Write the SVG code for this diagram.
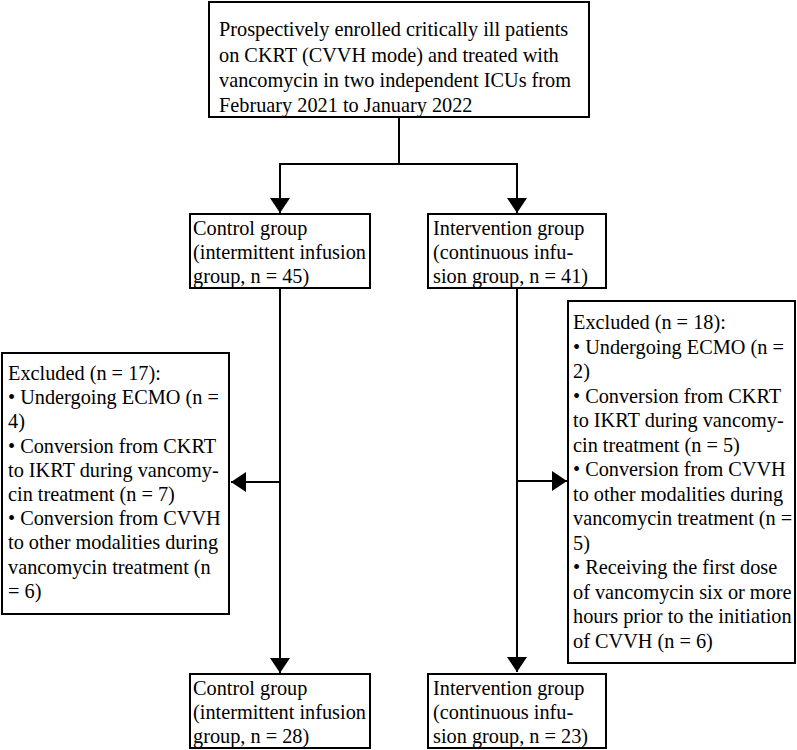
<svg xmlns="http://www.w3.org/2000/svg" width="797" height="750" viewBox="0 0 797 750">
<style>
.box{fill:#fff;stroke:#000;stroke-width:2}
.t{font-family:"Liberation Serif","Times New Roman",serif;font-size:20.3px;fill:#000}
.ln{fill:none;stroke:#000;stroke-width:2}
</style>
<defs>
<marker id="ah" markerUnits="userSpaceOnUse" markerWidth="16" markerHeight="20" refX="15" refY="10" orient="auto" viewBox="0 0 16 20">
<path d="M0,0 L15,10 L0,20 z" fill="#000"/>
</marker>
</defs>
<rect width="797" height="750" fill="#fff"/>
<g id="connectors">
<path class="ln" d="M399,117 V164"/>
<path class="ln" d="M280,164 H517"/>
<path class="ln" d="M280,163 V213" marker-end="url(#ah)"/>
<path class="ln" d="M517,163 V213" marker-end="url(#ah)"/>
<path class="ln" d="M280,288 V673" marker-end="url(#ah)"/>
<path class="ln" d="M517,288 V672" marker-end="url(#ah)"/>
<path class="ln" d="M280,482 H231" marker-end="url(#ah)"/>
<path class="ln" d="M517,481 H567" marker-end="url(#ah)"/>
</g>
<g id="enrolled">
<rect class="box" x="209" y="2" width="380" height="115"/>
<text class="t" x="219" y="36">Prospectively enrolled critically ill patients</text>
<text class="t" x="219" y="61.5">on CKRT (CVVH mode) and treated with</text>
<text class="t" x="219" y="87">vancomycin in two independent ICUs from</text>
<text class="t" x="219" y="112">February 2021 to January 2022</text>
</g>
<g id="control1">
<rect class="box" x="190" y="214" width="180" height="74"/>
<text class="t" x="193" y="235">Control group</text>
<text class="t" x="193" y="259">(intermittent infusion</text>
<text class="t" x="193" y="283">group, n = 45)</text>
</g>
<g id="intervention1">
<rect class="box" x="428" y="214" width="178" height="74"/>
<text class="t" x="433" y="235">Intervention group</text>
<text class="t" x="433" y="259">(continuous infu-</text>
<text class="t" x="433" y="283">sion group, n = 41)</text>
</g>
<g id="excluded-left">
<rect class="box" x="2" y="353" width="227" height="261"/>
<text class="t" x="8" y="380">Excluded (n = 17):</text>
<text class="t" x="8" y="404.2">• Undergoing ECMO (n =</text>
<text class="t" x="8" y="428.4">4)</text>
<text class="t" x="8" y="452.6">• Conversion from CKRT</text>
<text class="t" x="8" y="476.8">to IKRT during vancomy-</text>
<text class="t" x="8" y="501">cin treatment (n = 7)</text>
<text class="t" x="8" y="525.2">• Conversion from CVVH</text>
<text class="t" x="8" y="549.4">to other modalities during</text>
<text class="t" x="8" y="573.6">vancomycin treatment (n</text>
<text class="t" x="8" y="597.8">= 6)</text>
</g>
<g id="excluded-right">
<rect class="box" x="568" y="301" width="227" height="362"/>
<text class="t" x="573" y="329">Excluded (n = 18):</text>
<text class="t" x="573" y="353.5">• Undergoing ECMO (n =</text>
<text class="t" x="573" y="378">2)</text>
<text class="t" x="573" y="402.5">• Conversion from CKRT</text>
<text class="t" x="573" y="427">to IKRT during vancomy-</text>
<text class="t" x="573" y="451.5">cin treatment (n = 5)</text>
<text class="t" x="573" y="476">• Conversion from CVVH</text>
<text class="t" x="573" y="500.5">to other modalities during</text>
<text class="t" x="573" y="525">vancomycin treatment (n =</text>
<text class="t" x="573" y="549.5">5)</text>
<text class="t" x="573" y="574">• Receiving the first dose</text>
<text class="t" x="573" y="598.5">of vancomycin six or more</text>
<text class="t" x="573" y="623">hours prior to the initiation</text>
<text class="t" x="573" y="647.5">of CVVH (n = 6)</text>
</g>
<g id="control2">
<rect class="box" x="190" y="674" width="180" height="74"/>
<text class="t" x="193" y="695">Control group</text>
<text class="t" x="193" y="719">(intermittent infusion</text>
<text class="t" x="193" y="743">group, n = 28)</text>
</g>
<g id="intervention2">
<rect class="box" x="428" y="674" width="178" height="74"/>
<text class="t" x="433" y="695">Intervention group</text>
<text class="t" x="433" y="719">(continuous infu-</text>
<text class="t" x="433" y="743">sion group, n = 23)</text>
</g>
</svg>
